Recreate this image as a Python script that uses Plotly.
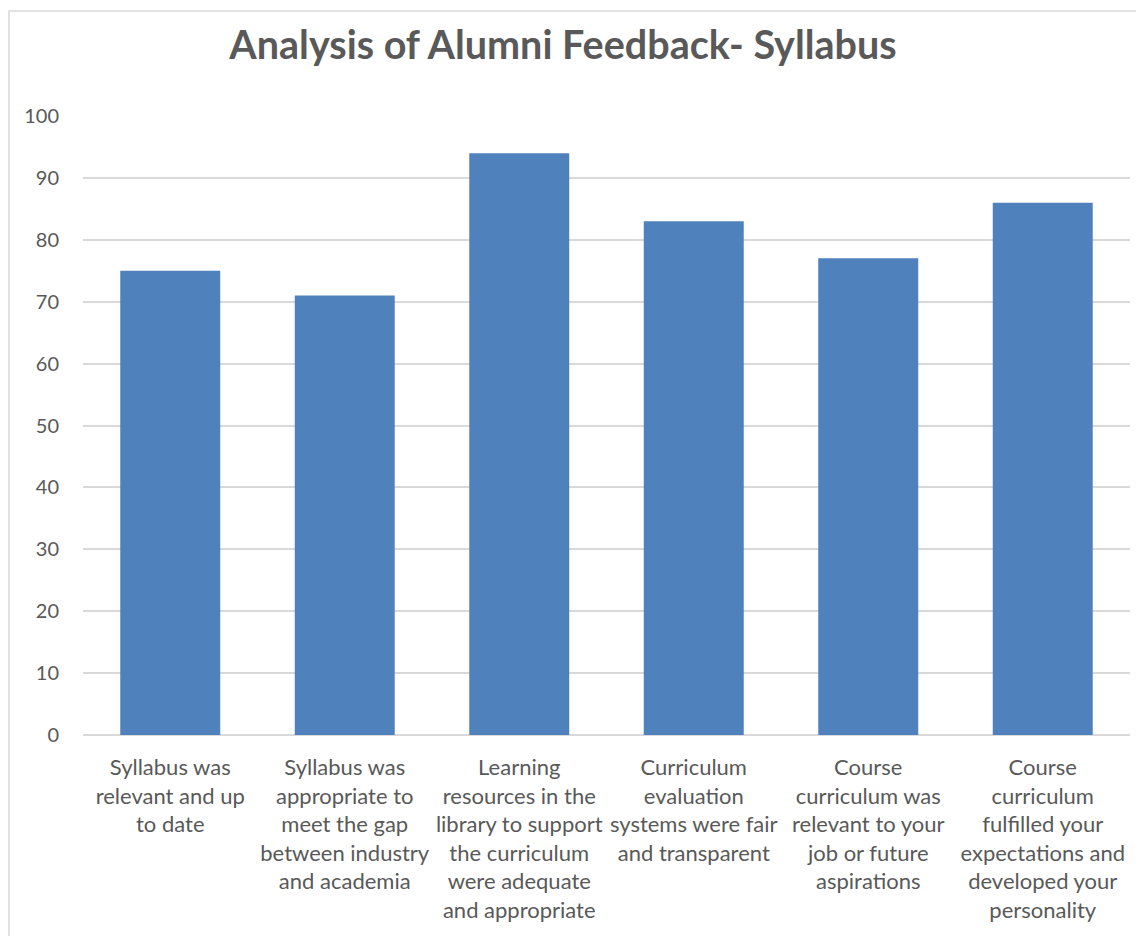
import plotly.graph_objects as go

categories = [
    "Syllabus was<br>relevant and up<br>to date",
    "Syllabus was<br>appropriate to<br>meet the gap<br>between industry<br>and academia",
    "Learning<br>resources in the<br>library to support<br>the curriculum<br>were adequate<br>and appropriate",
    "Curriculum<br>evaluation<br>systems were fair<br>and transparent",
    "Course<br>curriculum was<br>relevant to your<br>job or future<br>aspirations",
    "Course<br>curriculum<br>fulfilled your<br>expectations and<br>developed your<br>personality",
]
values = [75, 71, 94, 83, 77, 86]
y_ticks = list(range(0, 101, 10))

# page has an 8px body margin; figure origin sits at (8, 8)
OFF = 8
W, H = 1144, 936
ml, mt = 83 - OFF, 116 - OFF
pw, ph = 1047, 619
mr = W - ml - pw
mb = H - mt - ph

def px_x(x):
    return (x - OFF - ml) / pw

def px_y(y):
    return (mt + ph - (y - OFF)) / ph

fig = go.Figure(go.Bar(
    x=list(range(len(categories))), y=values,
    marker=dict(color="#4f81bd", line=dict(width=0)),
    hoverinfo="y",
))

fig.update_layout(
    width=W, height=H,
    margin=dict(l=ml, r=mr, t=mt, b=mb, autoexpand=False),
    paper_bgcolor="white", plot_bgcolor="white",
    bargap=0.427,
    showlegend=False,
    font=dict(family="Lato, Carlito, Calibri, sans-serif", color="#595959", size=20),
    title=dict(text="<b>Analysis of Alumni Feedback- Syllabus</b>",
               x=px_x(563), xref="paper", xanchor="center",
               y=1 - (45 - OFF) / H, yanchor="middle",
               font=dict(size=39.5, color="#595959")),
    xaxis=dict(
        tickmode="array", tickvals=list(range(len(categories))), ticktext=categories,
        range=[-0.5, len(categories) - 0.5],
        showgrid=False, zeroline=False, showline=False, ticks="",
        tickfont=dict(size=22, color="#595959"),
        ticklabelstandoff=17,
        tickangle=0,
    ),
    yaxis=dict(
        range=[0, 100], tickmode="array", tickvals=y_ticks,
        showgrid=True, gridcolor="#d9d9d9", gridwidth=1.5,
        zeroline=True, zerolinecolor="#d9d9d9", zerolinewidth=1.5,
        showline=False, ticks="",
        tickfont=dict(size=20, color="#595959"),
        ticklabelstandoff=23,
    ),
    shapes=[dict(type="rect", xref="paper", yref="paper",
                 x0=px_x(9), x1=px_x(1170), y0=px_y(980), y1=px_y(11),
                 line=dict(color="#d9d9d9", width=1.5), fillcolor="rgba(0,0,0,0)",
                 layer="below")],
)

fig.write_html("out.html")
